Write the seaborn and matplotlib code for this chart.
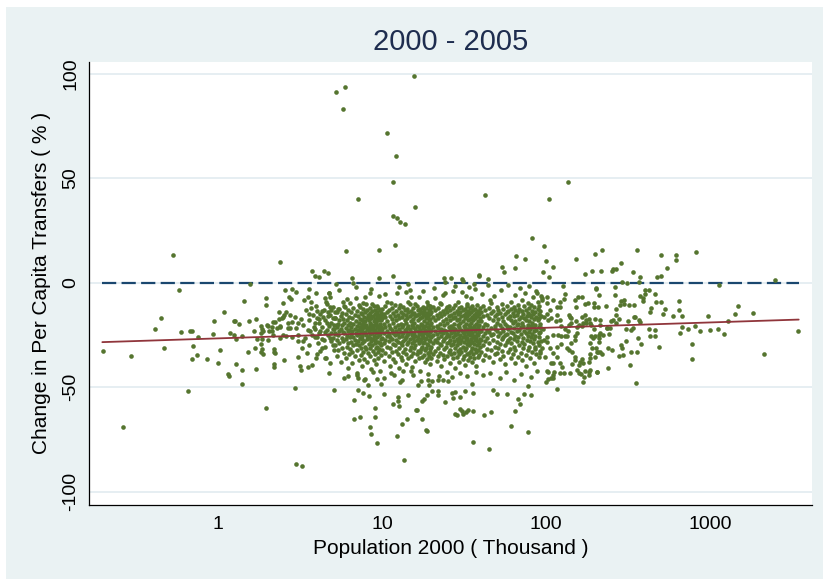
import numpy as np
import pandas as pd
import matplotlib
matplotlib.use("Agg")
import matplotlib.pyplot as plt
import seaborn as sns
from matplotlib.patches import Rectangle

sns.set_theme(style="white")
plt.rcParams['font.family'] = ['Liberation Sans', 'DejaVu Sans']

TITLE = "2000 - 2005"
X_LABEL = "Population 2000 ( Thousand )"
Y_LABEL = "Change in Per Capita Transfers ( % )"
x_ticks = [1, 10, 100, 1000]
x_tick_labels = ["1", "10", "100", "1000"]
y_ticks = [-100, -50, 0, 50, 100]
y_tick_labels = ["-100", "-50", "0", "50", "100"]

# fitted line and zero reference line (endpoints)
fit_pop = [0.197, 3475]
fit_change = [-28.4, -17.6]
zero_pop = [0.197, 3475]
zero_change = [0, 0]

# (population in thousand, change in %)
high_points = [
    (15.7, 98.9), (5.24, 91.6), (5.93, 93.6), (5.81, 83.4), (10.77, 71.9), (12.12, 60.7),
    (11.6, 48.3), (136.8, 48.4), (42.5, 42.3), (7.17, 40.1), (103.9, 40.1), (16.0, 36.1),
    (11.6, 31.8), (12.3, 31.0), (12.9, 29.2), (13.8, 28.1), (81.6, 21.6), (12.0, 17.9),
    (97.9, 17.7), (6.03, 15.3), (9.6, 15.7), (2.39, 9.9), (66.0, 12.8), (74.9, 11.5),
    (99.8, 10.5), (152, 11.2), (200, 13.7), (54.0, 7.7), (55.7, 5.4), (65.1, 6.9), (110, 7.7),
    (96, 5.1), (105, 3.0), (173, 4.3), (190, 5.6), (3.76, 5.9), (3.9, 3.5), (4.15, 2.7),
    (4.43, 5.6), (4.66, 4.9), (6.6, 2.4), (9.6, 2.5), (11.6, 3.4), (26.5, 2.4), (30.9, 1.8),
    (38.9, 3.4), (44.1, 1.8), (0.534, 13.1), (31.3, 1.1), (5.21, -0.6), (6.68, 0.1),
    (14.4, -0.5), (24.2, 0.6), (39.1, 3.8), (219, 15.8), (217, 5.8), (253, 5.8), (256, 6.7),
    (268, 6.4), (288, 9.7), (292, 0.5), (361, 15.5), (341, 5.4), (376, 2.9), (371, 0.5),
    (310, -0.1), (506, 13.4), (473, 3.0), (504, 3.5), (550, 6.9), (618, 13.1), (620, 10.7),
    (827, 14.7), (1138, -1.0), (2497, 1.3), (23.9, 2.5), (36.5, -0.4), (1.56, -0.8),
]

low_points = [
    (0.265, -69.0), (0.654, -51.6), (1.15, -43.8), (1.16, -44.6), (1.41, -48.3), (1.97, -59.8),
    (2.96, -50.5), (2.97, -86.8), (3.25, -87.6), (5.08, -51.5), (5.9, -45.5), (6.73, -56.2),
    (6.73, -65.3), (7.39, -64.4), (7.13, -51.2), (7.69, -52.9), (8.35, -54.0), (7.0, -44.0),
    (7.1, -45.8), (7.74, -46.6), (8.26, -49.0), (9.3, -45.9), (9.9, -48.3), (10.3, -45.5),
    (9.1, -60.1), (9.05, -64.4), (8.4, -69.2), (8.6, -72.5), (9.3, -76.9), (10.3, -53.2),
    (11.7, -57.9), (12.6, -54.5), (12.5, -56.4), (12.7, -58.8), (13.2, -67.4), (12.3, -73.5),
    (13.6, -85.0), (14.2, -65.2), (16.3, -61.0), (17.5, -65.1), (18.7, -71.0), (14.4, -53.5),
    (13.2, -46.5), (11.8, -44.0), (13.5, -42.2), (15.1, -42.3), (16.6, -48.8), (17.2, -47.1),
    (19.4, -48.8), (19.0, -46.5), (20.3, -46.8), (21.9, -46.4), (23.6, -46.6), (25.3, -47.1),
    (17.6, -56.4), (18.0, -55.5), (18.8, -53.5), (20.1, -51.6), (22.1, -51.8), (21.9, -53.8),
    (24.2, -56.9), (26.7, -52.9), (27.9, -52.3), (27.2, -55.1), (30.0, -54.5), (31.9, -51.6),
    (35.5, -48.6), (36.0, -52.6), (27.9, -62.7), (28.7, -63.4), (29.7, -60.6), (30.9, -61.4),
    (31.3, -62.9), (32.5, -61.7), (33.3, -60.9), (36.1, -61.2), (36.1, -76.1), (44.9, -79.7),
    (42.0, -63.4), (46.2, -61.7), (47.2, -51.2), (50.3, -53.1), (57.6, -53.1), (61.5, -68.4),
    (64.5, -61.2), (67.3, -55.8), (69.8, -57.9), (73.5, -53.1), (78.0, -49.5), (81.4, -53.7),
    (78.0, -71.3), (117, -50.7), (107, -45.5), (103, -45.9), (111, -44.0), (168, -47.5),
    (160, -43.3), (182, -44.2), (204, -42.7), (128, -43.3), (16.1, -60.9), (18.6, -70.6),
    (355, -47.9), (99.7, -47.6), (110, -45.7),
]

left_points = [
    (0.198, -32.6), (0.294, -35.0), (0.449, -16.8), (0.413, -22.2), (0.470, -31.2), (0.597, -23.5),
    (0.675, -22.9), (0.694, -22.9), (0.758, -26.0), (0.70, -30.3), (0.69, -36.3), (0.748, -34.8),
    (0.853, -36.4), (0.945, -18.4), (0.932, -24.3), (0.58, -3.5),
    (1.08, -14.0), (1.03, -32.0), (1.0, -38.4), (1.25, -18.4), (1.34, -19.7), (1.18, -23.8),
    (1.28, -26.7), (1.26, -24.9), (1.41, -25.6), (1.29, -38.8), (1.41, -41.6), (1.45, -8.6),
    (1.55, -18.1), (1.52, -33.1), (1.70, -17.3), (1.66, -23.2), (1.68, -31.3), (1.70, -41.4),
    (1.96, -7.2), (1.95, -10.7), (1.83, -20.6), (1.86, -22.2), (1.82, -23.8), (1.74, -26.7),
    (1.85, -27.0), (1.84, -29.2), (1.86, -31.6), (1.83, -32.9), (1.88, -34.0), (1.98, -20.3),
    (2.02, -20.6), (2.13, -23.2), (2.15, -18.6), (2.19, -31.5), (2.2, -33.1), (2.22, -33.5),
    (2.18, -40.1), (2.21, -38.7), (2.35, -13.8), (2.36, -17.4), (2.29, -21.6), (2.4, -20.8),
    (2.5, -25.1), (2.53, -36.8), (2.45, -16.8), (2.52, -15.3), (2.6, -14.2), (2.49, -9.5),
    (2.57, -3.5), (2.84, -2.9), (2.7, -6.6), (2.79, -7.7), (2.99, -4.5), (2.66, -21.6),
    (2.75, -21.4), (2.84, -18.8), (3.0, -21.4), (2.96, -16.6),
    (3.34, -8.2), (3.54, -7.0), (3.67, -9.3), (3.60, -3.0), (3.94, -4.9), (4.47, -7.3),
    (4.60, -10.1), (4.76, -4.9), (4.81, -11.6), (4.70, -13.8),
    (3.94, -10.9), (4.03, -13.3), (4.20, -14.9), (3.81, -15.3), (3.70, -12.1), (3.42, -12.9),
    (3.22, -17.4), (3.09, -19.3), (3.57, -17.7), (4.00, -16.9), (4.38, -16.2), (4.81, -15.3),
    (5.17, -16.9), (4.14, -19.3), (4.64, -19.3), (5.29, -20.1), (3.85, -21.0), (4.17, -23.3),
    (4.60, -22.5), (5.05, -22.2), (3.52, -22.5), (3.74, -24.9), (4.03, -26.0), (4.45, -27.3),
    (4.81, -26.5), (5.05, -29.7), (3.39, -26.5), (3.09, -27.8), (3.24, -31.3), (3.47, -33.7),
    (4.17, -32.5), (4.56, -35.8), (4.81, -38.5), (4.76, -43.1), (4.28, -31.0),
    (1.27, -18.5), (1.89, -23.0), (3.09, -35.3), (3.16, -39.8), (3.21, -41.7), (3.55, -40.1),
    (3.72, -39.2), (3.95, -36.1), (4.03, -34.0), (2.12, -21.0), (2.23, -18.8), (2.48, -16.2),
    (2.74, -15.3), (2.39, -21.0), (2.68, -19.3), (2.02, -27.3), (2.15, -24.9), (2.39, -26.5),
    (2.59, -25.7), (2.81, -26.0), (3.09, -24.9), (2.05, -23.0),
    (4.74, -4.9), (4.81, -6.9), (4.53, -9.0), (4.43, -12.9), (5.05, -11.4),
    (3.3, -20.0), (3.31, -28.0), (3.6, -15.0), (3.62, -23.0), (3.58, -30.0), (3.9, -19.0),
    (3.88, -26.0), (3.92, -22.0), (4.1, -17.5), (4.12, -24.0), (4.08, -29.0), (4.3, -13.5),
    (4.32, -21.0), (4.28, -27.0), (4.5, -18.0), (4.52, -23.5), (4.48, -30.5), (4.5, -36.0),
    (4.7, -16.0), (4.72, -20.5), (4.68, -25.0), (4.9, -13.0), (4.92, -19.0), (4.88, -24.0),
    (4.9, -28.0), (5.05, -17.0), (5.07, -22.0), (5.03, -26.5), (5.1, -32.0), (5.15, -14.0),
    (5.13, -20.0), (5.17, -24.0),
]

right_points = [
    (97.3, -16.5), (101.9, -15.0), (107.8, -16.9), (114.9, -18.1), (124, -20.5), (130, -21.9),
    (138, -20.1), (130, -25.3), (118, -25.1), (110, -25.1), (102, -26.0), (97.3, -27.3),
    (106, -31.3), (110, -33.6), (116, -35.3), (121, -38.2), (126, -40.1), (122, -43.3),
    (101, -42.2), (111, -38.4), (123, -29.4), (134, -31.2), (142, -28.9), (144, -38.8),
    (150, -35.5), (161, -38.0), (163, -43.5), (170, -44.9), (183, -42.5), (166, -20.9),
    (176, -17.7), (142, -16.9), (138, -15.3), (122, -11.8), (128, -7.8), (131, -5.3),
    (127, -1.4), (110, -8.2), (101, -6.6), (95.0, -8.2), (106, -12.9), (123, -25.7),
    (136, -23.3), (142, -19.3), (154, -21.2), (117, -15.2), (96.2, -22.2), (95.0, -31.3),
    (98.7, -35.3), (103, -42.5), (112, -42.7),
    (189, -25.7), (199, -25.4), (211, -25.0), (186, -28.9), (191, -31.3), (204, -33.1),
    (186, -34.2), (199, -35.5), (183, -37.9), (165, -36.4), (168, -38.5), (160, -39.2),
    (173, -42.2), (144, -32.9), (151, -37.1), (139, -32.1), (151, -27.3), (151, -25.4),
    (152, -18.1), (160, -20.0),
    (201, -3.0), (210, -5.9), (195, -9.6), (196, -11.8), (181, -9.9), (174, -10.2),
    (172, -15.2), (157, -6.6), (153, -11.4), (165, -16.2), (176, -19.0), (183, -17.3),
    (189, -20.1), (199, -17.3), (196, -21.9), (214, -20.3),
    (267, -12.5), (269, -15.3), (281, -10.6), (297, -8.2), (301, -10.2), (319, -10.7),
    (347, -16.3), (280, -17.4), (268, -19.2), (250, -18.4), (233, -11.3), (234, -21.4),
    (255, -17.7), (264, -5.6), (288, -8.8), (264, -2.2),
    (332, -33.2), (290, -31.2), (307, -27.8), (285, -29.9), (279, -35.0), (293, -34.5),
    (253, -32.1), (239, -40.6), (223, -24.8), (242, -24.6), (245, -21.6), (214, -24.1),
    (211, -26.5), (210, -28.4), (208, -33.1), (206, -42.8), (218, -33.9),
    (329, -22.4), (338, -21.4), (369, -17.7), (375, -18.8), (342, -16.6), (318, -18.4),
    (307, -21.9), (324, -39.5), (366, -26.2), (380, -29.2), (360, -32.9),
    (403, -3.4), (425, -3.4), (399, -5.4), (376, -6.1), (391, -8.6), (393, -7.2), (344, -10.4),
    (490, -30.8), (459, -22.7), (464, -25.4), (430, -25.4), (424, -22.1),
    (656, -23.8), (671, -15.7), (648, -13.1), (648, -8.5), (599, -16.0), (532, -12.5),
    (516, -14.7), (506, -9.1), (469, -9.0), (459, -5.3), (435, -12.1), (431, -13.8),
    (781, -29.2), (776, -36.4), (975, -16.0),
    (1117, -21.9), (1004, -22.4), (870, -22.9), (808, -20.6), (736, -22.1), (671, -21.0),
    (1224, -24.3), (1291, -18.1), (1411, -15.0), (1477, -10.9), (1822, -14.5), (2124, -33.9),
    (3430, -23.2),
    (203, -2.5), (165, -6.6), (88.0, -4.9), (122, -9.3), (150, -8.2), (208, -11.4),
    (235, -21.7), (214, -17.7), (194, -26.5), (203, -31.3), (214, -32.9), (239, -31.3),
    (186, -36.1), (186, -41.7), (154, -41.7), (140, -43.3), (108, -38.5), (91.7, -33.7),
    (85.6, -30.5), (101, -28.1), (116, -30.5), (134, -25.7), (154, -24.1), (168, -19.3),
    (186, -19.3), (140, -16.2), (122, -17.7), (103, -17.7), (116, -11.4), (101, -9.7),
    (94.3, -7.3),
]

fringe_points = [
    (5.75, -9.0), (6.14, -7.8), (6.94, -7.3), (7.87, -6.6), (8.39, -4.9), (9.52, -6.2),
    (12.3, -4.9), (14.0, -4.6), (14.8, -3.4), (16.8, -6.6), (18.7, -9.0), (21.0, -7.3),
    (24.2, -4.9), (27.2, -3.7), (32.4, -6.2), (5.42, -12.6), (5.95, -11.4), (7.26, -10.5),
    (7.69, -9.7), (8.67, -10.2), (9.29, -11.0), (10.7, -9.0), (11.4, -9.7), (12.9, -10.5),
    (14.4, -9.0), (15.9, -10.1), (17.9, -12.1), (19.6, -11.0), (22.6, -9.7), (25.0, -11.6),
    (29.2, -9.0), (32.8, -11.0),
    (6.2, -44.5), (7.9, -46.0), (8.8, -42.5), (11.3, -43.0), (12.8, -47.5), (15.4, -44.0),
    (19.1, -43.5), (22.3, -44.5), (24.8, -42.5), (26.9, -45.2), (29.8, -43.2), (33.2, -44.8),
    (37.4, -42.6), (41.5, -44.2), (45.6, -43.4), (52.1, -45.6), (57.2, -42.8), (63.4, -46.3),
    (70.8, -43.7), (80.9, -45.1), (88.2, -42.4),
    (5.5, -3.5), (6.9, -1.8), (8.6, -3.0), (10.4, -5.5), (12.7, -2.2), (15.1, -6.8),
    (17.9, -4.1), (20.8, -2.6), (23.6, -6.0), (27.8, -1.5), (30.6, -4.4), (34.7, -7.3),
    (36.9, -2.9), (40.9, -5.2), (44.1, -1.2), (48.3, -6.5), (52.8, -3.3), (58.6, -0.9),
    (64.3, -5.8), (69.5, -2.4), (74.8, -4.7), (79.1, -1.6), (86.8, -3.9), (92.9, -6.1),
    (33.9, -2.0), (45.5, -8.1),
]

# dense core: population with the changes read around it
core_columns = [
    (5.2, [-17, -24.5, -30]), (5.3, [-14, -21, -27.5, -35]), (5.4, [-19.5, -25, -32]),
    (5.5, [-12.5, -18, -23, -29]), (5.6, [-16, -22, -38]), (5.7, [-20, -26.5, -31, -14.5]),
    (5.8, [-17.5, -23.5, -28]), (5.9, [-11, -19, -24, -33.5]), (6.0, [-15, -21.5, -27, -36]),
    (6.1, [-18, -25.5, -30.5]), (6.2, [-13, -20, -23, -29, -41]), (6.3, [-16.5, -22.5, -34]),
    (6.4, [-19, -26, -31.5, -9.5]), (6.5, [-14, -21, -24.5, -28.5]), (6.6, [-17, -23, -33, -38.5]),
    (6.7, [-12, -19.5, -26, -30]), (6.8, [-15.5, -22, -27.5, -35]), (6.9, [-18.5, -24, -29.5]),
    (7.0, [-13.5, -20.5, -25, -32, -43]), (7.1, [-16, -22.5, -28]), (7.2, [-19, -24.5, -30, -37]),
    (7.3, [-11.5, -17.5, -21, -26.5]), (7.4, [-14.5, -23, -31, -34.5]), (7.5, [-18, -20, -27, -40]),
    (7.6, [-15, -22, -25.5, -29]), (7.7, [-12.5, -19, -24, -33]), (7.8, [-16.5, -21, -28, -36.5]),
    (7.9, [-14, -18.5, -23.5, -30.5]), (8.0, [-20, -25, -31.5, -10]), (8.1, [-13, -17, -22, -27, -38]),
    (8.2, [-15.5, -21.5, -26, -33.5]), (8.3, [-18, -23, -29.5]), (8.4, [-12, -16, -20.5, -24.5, -31]),
    (8.5, [-14.5, -19, -26.5, -35]), (8.6, [-17, -22, -28, -41.5]), (8.7, [-13.5, -20, -24, -30]),
    (8.8, [-16, -21.5, -27, -32.5]), (8.9, [-11, -18.5, -23, -25.5, -37]), (9.0, [-15, -20, -29, -34]),
    (9.1, [-13, -17.5, -22.5, -27.5]), (9.2, [-19, -24, -31, -39]), (9.3, [-14, -16.5, -21, -26, -30.5]),
    (9.4, [-12, -18, -23.5, -33]), (9.5, [-15.5, -20.5, -28.5, -36]), (9.6, [-17, -22, -25, -31.5]),
    (9.7, [-13, -19.5, -24.5, -29, -42]), (9.8, [-16, -21, -27, -34.5]), (9.9, [-14.5, -18, -23, -30]),
    (10.0, [-12.5, -17, -22, -26.5, -32]), (10.25, [-15, -19.5, -24, -29, -37.5]),
    (10.5, [-11, -16.5, -21, -27.5, -33.5]), (10.75, [-14, -18.5, -23, -25.5, -30.5]),
    (11.0, [-13, -20, -24.5, -28, -35]), (11.25, [-16, -21.5, -26, -31, -40]),
    (11.5, [-12, -17.5, -22.5, -27, -33]), (11.75, [-14.5, -19, -24, -29.5, -36.5]),
    (12.0, [-10.5, -16, -21, -25, -30, -38]), (12.25, [-13.5, -18, -23, -27.5, -32.5]),
    (12.5, [-15.5, -20, -24.5, -28.5, -34]), (12.75, [-12, -17, -22, -26, -31, -41]),
    (13.0, [-14, -19.5, -23.5, -29, -35.5]), (13.25, [-16.5, -21, -25.5, -30, -37]),
    (13.5, [-11.5, -15, -20, -24, -28, -33]), (13.75, [-13, -18, -22.5, -27, -31.5]),
    (14.0, [-15.5, -19, -23, -26, -34, -39]), (14.25, [-12.5, -17, -21.5, -25, -29.5]),
    (14.5, [-14, -20.5, -24.5, -28.5, -36]), (14.75, [-10, -16, -22, -27, -32]),
    (15.0, [-13.5, -18.5, -23.5, -30.5, -35]), (15.25, [-15, -20, -25, -29, -40.5]),
    (15.5, [-12, -17.5, -21, -26.5, -33.5]), (15.75, [-14.5, -19, -24, -28, -31]),
    (16.0, [-16, -22, -25.5, -30, -37.5]), (16.25, [-11, -15.5, -20.5, -27.5, -34]),
    (16.5, [-13, -18, -23, -26, -32.5]), (16.75, [-15, -21, -24.5, -29, -36]),
    (17.0, [-12.5, -17, -22.5, -28, -33, -42]), (17.25, [-14, -19.5, -23.5, -27, -31.5]),
    (17.5, [-16.5, -20, -25, -30.5, -35.5]), (17.75, [-11.5, -15, -21.5, -26, -29]),
    (18.0, [-13.5, -18.5, -24, -28.5, -34.5]), (18.25, [-15.5, -20.5, -22.5, -27, -32, -38]),
    (18.5, [-12, -17, -23, -26.5, -31]), (18.75, [-14.5, -19, -24.5, -29.5, -36.5]),
    (19.0, [-10.5, -16, -21, -25, -30, -33.5]), (19.25, [-13, -18, -22, -27.5, -35]),
    (19.5, [-15, -20, -25.5, -31.5, -39]), (19.75, [-12.5, -17.5, -23.5, -28, -33]),
    (20.0, [-14, -19, -22.5, -26, -30.5, -36]), (20.5, [-11.5, -16.5, -21, -25, -29, -34]),
    (21.0, [-13, -18, -23, -27.5, -32.5]), (21.5, [-15.5, -20.5, -24.5, -28.5, -37.5]),
    (22.0, [-12, -17, -21.5, -26.5, -31, -35]), (22.5, [-14.5, -19.5, -23.5, -29.5, -33.5]),
    (23.0, [-10, -16, -22, -25.5, -30, -40]), (23.5, [-13.5, -18.5, -24, -28, -34.5]),
    (24.0, [-15, -20, -22.5, -27, -31.5, -36.5]), (24.5, [-12.5, -17.5, -23, -26, -30.5]),
    (25.0, [-14, -19, -24.5, -29, -35]), (25.5, [-11, -16, -21, -25.5, -28.5, -33]),
    (26.0, [-13, -18, -22.5, -27.5, -32, -38.5]), (26.5, [-15.5, -20.5, -24, -30, -34]),
    (27.0, [-12, -17, -21.5, -26, -29.5, -36]), (27.5, [-14.5, -19.5, -23.5, -28, -33.5]),
    (28.0, [-10.5, -16.5, -22, -25, -31, -41]), (28.5, [-13.5, -18, -24.5, -27, -30, -35.5]),
    (29.0, [-15, -20, -23, -28.5, -32.5]), (29.5, [-12, -17.5, -21, -26.5, -34, -38]),
    (30.0, [-14, -19, -25, -29, -31.5]), (30.5, [-11.5, -16, -22.5, -27.5, -33]),
    (31.0, [-13, -18.5, -23.5, -26, -30.5, -36.5]), (31.5, [-15.5, -20.5, -24, -28.5, -35]),
    (32.0, [-12.5, -17, -21.5, -25.5, -32, -39.5]), (32.5, [-14.5, -19.5, -23, -27, -31]),
    (33.0, [-10, -16, -22, -26.5, -29.5, -34]), (33.5, [-13.5, -18, -24.5, -28, -37]),
    (34.0, [-15, -20, -23.5, -30, -33.5]), (34.5, [-12, -17.5, -21, -25, -29, -35.5]),
    (35.0, [-14, -19, -22.5, -27, -32.5]), (35.5, [-11, -16.5, -24, -28.5, -31, -38]),
    (36.0, [-13, -18, -21.5, -26, -34]), (36.5, [-15.5, -20.5, -25.5, -29.5, -36]),
    (37.0, [-12.5, -17, -23, -27.5, -31.5]), (37.5, [-14.5, -19.5, -22, -26.5, -33, -40]),
    (38.0, [-10.5, -16, -24.5, -28, -30]), (38.5, [-13.5, -18.5, -21, -25, -32, -35.5]),
    (39.0, [-15, -20, -23.5, -29, -34.5]), (39.5, [-12, -17, -22.5, -27, -30.5]),
    (40.0, [-14, -18.5, -23, -27.5, -33]), (41.25, [-11, -16, -21, -25.5, -30, -37]),
    (42.5, [-13, -19.5, -24, -28, -34.5]), (43.75, [-15.5, -20, -22.5, -26.5, -31.5]),
    (45.0, [-12, -17, -23.5, -29, -35.5]), (46.25, [-9.5, -14.5, -21.5, -25, -32]),
    (47.5, [-13.5, -18, -24.5, -27.5, -38]), (48.75, [-16, -20.5, -22, -30.5, -34]),
    (50.0, [-11.5, -15, -19, -23, -28.5, -33.5]), (51.25, [-13, -17.5, -25.5, -31]),
    (52.5, [-14.5, -20, -24, -29.5, -36.5]), (53.75, [-10, -16.5, -21.5, -27, -32.5]),
    (55.0, [-12.5, -18.5, -23, -26, -35]), (56.25, [-15, -19.5, -25, -30, -39]),
    (57.5, [-11, -14, -20.5, -24.5, -28.5]), (58.75, [-13.5, -17, -22, -27.5, -33]),
    (60.0, [-16, -21, -26.5, -31.5]), (61.25, [-9, -12.5, -18, -23.5, -29, -36]),
    (62.5, [-14.5, -19, -24, -34]), (63.75, [-11.5, -16, -21.5, -27, -30.5]),
    (65.0, [-13, -18.5, -25.5, -32, -38.5]), (66.25, [-15.5, -20, -23, -28]),
    (67.5, [-10.5, -14, -19.5, -26, -35.5]), (68.75, [-12.5, -17.5, -22.5, -30]),
    (70.0, [-16.5, -21, -24.5, -33.5]), (71.25, [-8, -13.5, -19, -28.5, -37]),
    (72.5, [-15, -20.5, -26.5, -31]), (73.75, [-11, -17, -23, -29.5]),
    (75.0, [-13, -18, -24, -34.5, -40]), (76.25, [-16, -21.5, -27.5]),
    (77.5, [-9.5, -14.5, -20, -25.5, -32]), (78.75, [-12, -18.5, -23.5, -30.5]),
    (80.0, [-15.5, -22, -28, -36]), (81.25, [-10.5, -16.5, -20.5, -26]),
    (82.5, [-13.5, -19, -24.5, -33]), (83.75, [-7, -15, -21, -29]),
    (85.0, [-11.5, -17.5, -23, -27, -38.5]), (86.25, [-14, -20, -25.5, -31.5]),
    (87.5, [-16.5, -22.5, -34]), (88.75, [-9, -12.5, -18, -28.5]),
    (90.0, [-15, -21, -24, -30]), (91.25, [-11, -17, -26, -35.5]),
    (92.5, [-13.5, -19.5, -23.5, -32.5]), (93.75, [-16, -21.5, -28]),
]

core_points = [(p, c) for p, changes in core_columns for c in changes]
points = high_points + low_points + left_points + right_points + fringe_points + core_points
df = pd.DataFrame(points, columns=["pop", "change"])

W, H = 823, 579
fig = plt.figure(figsize=(W / 100, H / 100), dpi=100)
fig.patch.set_facecolor("white")
fig.patches.append(Rectangle((6 / W, 0), 1 - 6 / W, (H - 7) / H, transform=fig.transFigure,
                             facecolor="#EAF2F3", edgecolor="none", zorder=-10))

ax = fig.add_axes([89 / W, (H - 505) / H, (812 - 89) / W, (505 - 61.7) / H])
ax.set_facecolor("white")
ax.set_xscale("log")
ax.set_xlim(0.1634, 4188)
ax.set_ylim(-106.4, 105.9)

for yt in y_ticks:
    ax.axhline(yt, color="#E4EDF1", lw=1.3, zorder=0)

sns.lineplot(x=zero_pop, y=zero_change, ax=ax, color="#1A476F", lw=1.6,
             linestyle=(0, (6.4, 2.4)), zorder=2)
sns.scatterplot(data=df, x="pop", y="change", ax=ax, color="#55752F", s=11,
                linewidth=0, zorder=3)
sns.lineplot(x=fit_pop, y=fit_change, ax=ax, color="#90353B", lw=1.3, zorder=4)

ax.set_xticks(x_ticks)
ax.set_xticklabels(x_tick_labels)
ax.xaxis.set_minor_locator(matplotlib.ticker.NullLocator())
ax.set_yticks(y_ticks)
ax.set_yticklabels(y_tick_labels, rotation=90, va="center")
ax.tick_params(axis="both", which="major", length=5.8, width=0.9, color="#333333",
               labelsize=14, labelcolor="black", direction="out", pad=2)
ax.tick_params(axis="y", pad=1)

for s in ["top", "right"]:
    ax.spines[s].set_visible(False)
for s in ["left", "bottom"]:
    ax.spines[s].set_color("black")
    ax.spines[s].set_linewidth(0.9)

ax.set_xlabel(X_LABEL, fontsize=15, color="black")
ax.set_ylabel(Y_LABEL, fontsize=15, color="black")
ax.xaxis.set_label_coords(0.5, (505 - 548) / (505 - 61.7))
ax.xaxis.label.set_va("center")
ax.yaxis.set_label_coords((42 - 89) / (812 - 89), 0.5)
ax.yaxis.label.set_va("center")

fig.text(450.5 / W, 1 - 42 / H, TITLE, ha="center", va="center", fontsize=21, color="#1E2D4F")

fig.savefig("out.png", dpi=100, facecolor=fig.get_facecolor())
